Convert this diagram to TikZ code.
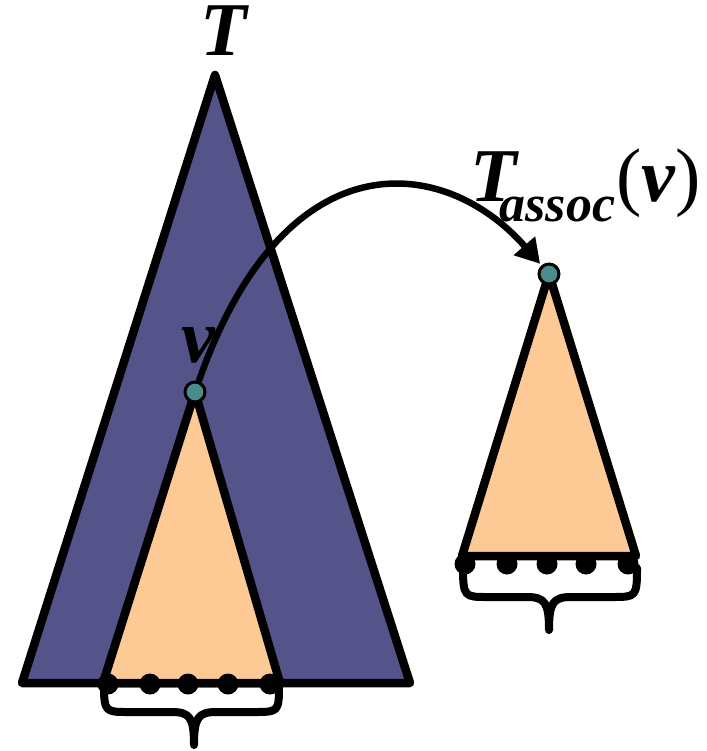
\documentclass[tikz,border=0pt]{standalone}
\usepackage{fontspec}
\setmainfont{Liberation Serif}
\usetikzlibrary{arrows.meta}
\definecolor{deepblue}{HTML}{55548A}
\definecolor{peach}{HTML}{FDCA96}
\definecolor{tealdot}{HTML}{4A8C8C}
\tikzset{
  edge/.style={line width=8.5pt, line join=round},
  leaf/.style={circle, fill=black, inner sep=0pt, minimum size=21pt},
  vnode/.style={circle, fill=tealdot, draw=black, line width=3pt, inner sep=0pt, minimum size=20pt},
  brace/.style={line width=8pt, line cap=round, line join=round},
  lbl/.style={inner sep=0pt, font=\fontsize{76}{78}\selectfont\bfseries\itshape}
}
\begin{document}
\begin{tikzpicture}[x=1pt,y=-1pt]
\useasboundingbox (0,0) rectangle (706,751);
% big tree
\coordinate (Ttop) at (215,75);
\coordinate (Tl) at (22,683);
\coordinate (Tr) at (410,683);
\filldraw[edge, fill=deepblue] (Ttop) -- (Tl) -- (Tr) -- cycle;
% subtree in T
\coordinate (Sl) at (103,683);
\coordinate (Sr) at (280,683);
\coordinate (Sv) at (195,392);
\filldraw[edge, fill=peach] (Sv) -- (Sl) -- (Sr) -- cycle;
% assoc tree
\coordinate (Av) at (549,274);
\coordinate (Al) at (462,556);
\coordinate (Ar) at (636,556);
\filldraw[edge, fill=peach] (Av) -- (Al) -- (Ar) -- cycle;
% leaves left
\foreach \x [count=\i] in {108,150,188,228,270} \node[leaf] (l\i) at (\x,684) {};
% leaves right
\foreach \x [count=\i] in {465,507,547,586,628} \node[leaf] (r\i) at (\x,564) {};
% braces
\draw[brace] (104,686) .. controls (104,712) and (106,712) .. (128,712) -- (172,712)
  .. controls (190,712) and (194,718) .. (194,745)
  .. controls (194,718) and (198,712) .. (216,712) -- (254,712)
  .. controls (278,712) and (279,712) .. (279,686);
\draw[brace] (463,568) .. controls (463,597) and (465,597) .. (487,597) -- (527,597)
  .. controls (545,597) and (549,603) .. (549,630)
  .. controls (549,603) and (553,597) .. (571,597) -- (612,597)
  .. controls (636,597) and (637,597) .. (637,568);
% v nodes
\node[vnode] (v) at (Sv) {};
\node[vnode] (va) at (Av) {};
% arrow
\draw[line width=6.5pt, -{Triangle[length=24pt,width=27pt]}, shorten >=2pt]
  (v) .. controls (285,135) and (445,155) .. (va);
% labels
\node[lbl, anchor=base, text height=0.66em] (Tlab) at (224,56) {T};
\node[lbl, anchor=base] (vlab) at (198,362) {v};
\node[lbl, anchor=base west] (Alab) at (470,202) {T\kern-17pt\raisebox{-20pt}{\fontsize{52}{54}\selectfont assoc}\kern1pt\fontsize{76}{78}\selectfont\mdseries\upshape(\bfseries\itshape v\mdseries\upshape)};
\end{tikzpicture}
\end{document}
